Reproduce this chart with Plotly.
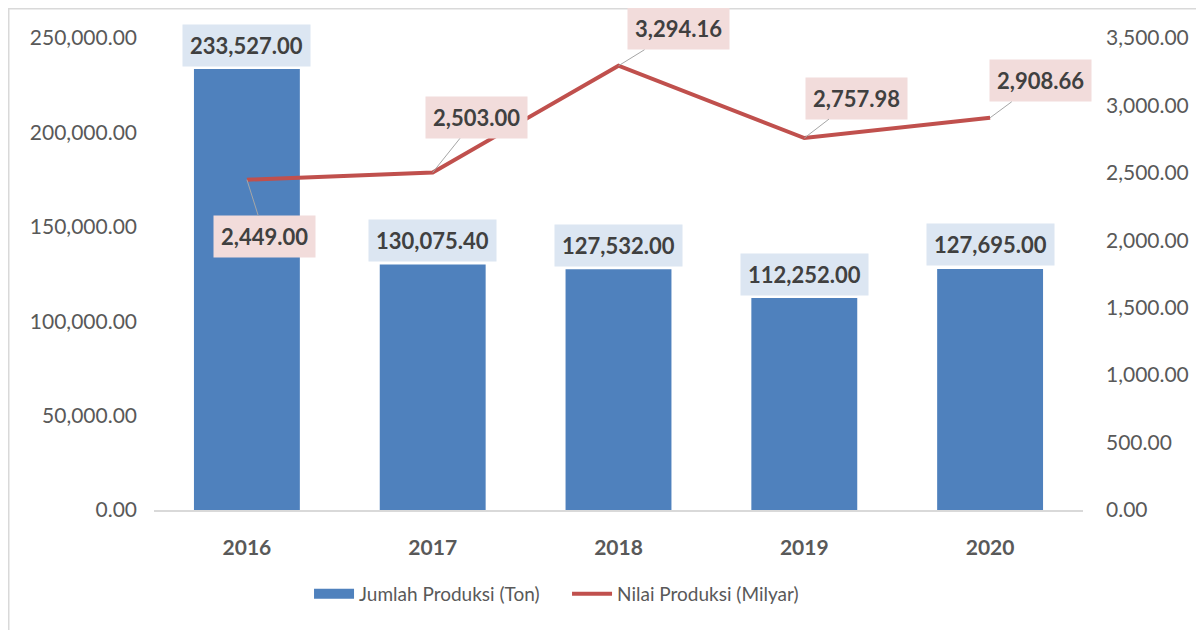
import plotly.graph_objects as go

years = ["2016", "2017", "2018", "2019", "2020"]
jumlah_produksi = [233527.00, 130075.40, 127532.00, 112252.00, 127695.00]
nilai_produksi = [2449.00, 2503.00, 3294.16, 2757.98, 2908.66]
left_ticks = [0, 50000, 100000, 150000, 200000, 250000]
right_ticks = [0, 500, 1000, 1500, 2000, 2500, 3000, 3500]
# label offsets (pixels) for line labels
line_label_ax = [18, 44, 60, 52, 50]
line_label_ay = [57, -55, -37, -40, -37]

FONT = "Lato"
GRAY = "#595959"
BAR_C = "#4f81bd"
LINE_C = "#c0504d"

xpos = list(range(len(years)))

fig = go.Figure()
fig.add_trace(go.Bar(
    x=xpos, y=jumlah_produksi, name="Jumlah Produksi (Ton)", width=0.57,
    marker=dict(color=BAR_C, line=dict(width=0)), yaxis="y", showlegend=False,
))
# legend swatch for the bars (wide rectangle, as in the reference)
fig.add_trace(go.Scatter(
    x=[None], y=[None], name="Jumlah Produksi (Ton)", mode="lines",
    line=dict(color=BAR_C, width=12), yaxis="y", hoverinfo="skip",
))
fig.add_trace(go.Scatter(
    x=xpos, y=nilai_produksi, name="Nilai Produksi (Milyar)",
    mode="lines", line=dict(color=LINE_C, width=4), yaxis="y2",
))

annotations = []
for x, v in zip(xpos, jumlah_produksi):
    annotations.append(dict(
        x=x, y=v, xref="x", yref="y", text=f"<b>{v:,.2f}</b>",
        showarrow=False, yshift=24, bgcolor="#dce6f2", borderpad=7,
        font=dict(family=FONT, size=22, color="#404040"),
    ))
for x, v, ax, ay in zip(xpos, nilai_produksi, line_label_ax, line_label_ay):
    annotations.append(dict(
        x=x, y=v, xref="x", yref="y2", text=f"<b>{v:,.2f}</b>",
        showarrow=True, arrowhead=0, arrowwidth=1, arrowcolor="#a6a6a6",
        ax=ax, ay=ay, standoff=0, bgcolor="#f2dcdb", borderpad=7,
        font=dict(family=FONT, size=22, color="#404040"),
    ))

# page body adds an 8px offset; figure is sized so it lands on the reference grid
W, H = 1196, 622
L, R, T, B = 146, 121, 30, 120
pw = W - L - R
ph = H - T - B
bx = -L / pw
by_top = 1 + T / ph
by_bot = -B / ph

shapes = [
    dict(type="line", xref="paper", yref="paper", x0=bx, x1=1 + R / pw, y0=by_top, y1=by_top,
         line=dict(color="#d9d9d9", width=3)),
    dict(type="line", xref="paper", yref="paper", x0=bx, x1=bx, y0=by_bot, y1=by_top,
         line=dict(color="#d9d9d9", width=3)),
]

fig.update_layout(
    width=W, height=H,
    margin=dict(l=L, r=R, t=T, b=B, autoexpand=False),
    paper_bgcolor="white", plot_bgcolor="white",
    font=dict(family=FONT, color=GRAY),
    showlegend=True,
    legend=dict(orientation="h", x=0.4446, xanchor="center", y=-0.178, yanchor="middle",
                font=dict(family=FONT, size=19, color=GRAY), itemwidth=40,
                entrywidth=203, entrywidthmode="pixels",
                traceorder="normal"),
    xaxis=dict(range=[-0.5, 4.5], tickvals=xpos, ticktext=[f"<b>{y}</b>" for y in years],
               showline=True, linecolor="#d9d9d9", linewidth=1.5, zeroline=False,
               showgrid=False, ticks="", tickfont=dict(family=FONT, size=21, color=GRAY),
               ticklabelstandoff=18),
    yaxis=dict(range=[0, 250000], tickvals=left_ticks,
               ticktext=[f"{t:,.2f}" for t in left_ticks],
               showgrid=False, zeroline=False, showline=False,
               tickfont=dict(family=FONT, size=21, color=GRAY), ticklabelstandoff=16),
    yaxis2=dict(range=[0, 3500], tickvals=right_ticks,
                ticktext=[f"{t:,.2f}" for t in right_ticks],
                overlaying="y", side="right",
                showgrid=False, zeroline=False, showline=False,
                tickfont=dict(family=FONT, size=21, color=GRAY), ticklabelstandoff=22),
    annotations=annotations,
    shapes=shapes,
)

fig.write_html("out.html")
